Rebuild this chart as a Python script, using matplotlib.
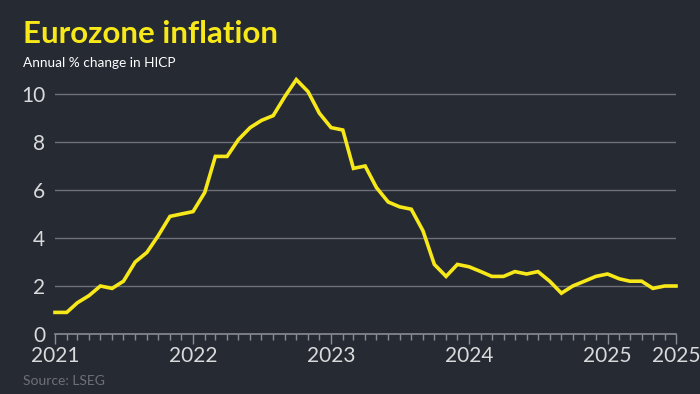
import matplotlib.pyplot as plt
import matplotlib.dates as mdates
import numpy as np
import pandas as pd

plt.rcParams['font.family'] = ['Lato', 'DejaVu Sans']

# monthly HICP, Jan 2021 - Jul 2025
months = pd.date_range('2021-01-01', '2025-07-01', freq='MS')
hicp = [0.9, 0.9, 1.3, 1.6, 2.0, 1.9, 2.2, 3.0, 3.4, 4.1, 4.9, 5.0,
        5.1, 5.9, 7.4, 7.4, 8.1, 8.6, 8.9, 9.1, 9.9, 10.6, 10.1, 9.2,
        8.6, 8.5, 6.9, 7.0, 6.1, 5.5, 5.3, 5.2, 4.3, 2.9, 2.4, 2.9,
        2.8, 2.6, 2.4, 2.4, 2.6, 2.5, 2.6, 2.2, 1.7, 2.0, 2.2, 2.4,
        2.5, 2.3, 2.2, 2.2, 1.9, 2.0, 2.0]
yticks = [0, 2, 4, 6, 8, 10]
xtick_dates = pd.to_datetime(['2021-01-01', '2022-01-01', '2023-01-01',
                              '2024-01-01', '2025-01-01', '2025-07-01'])
xtick_labels = ['2021', '2022', '2023', '2024', '2025', '2025']

bg = '#262a33'
yellow = '#f7e81a'
grey_txt = '#d9dadc'

fig = plt.figure(figsize=(7, 3.94), dpi=100, facecolor=bg)
ax = fig.add_axes([55 / 700, 1 - 334 / 394, (676 - 55) / 700, 264 / 394])
ax.set_facecolor(bg)

ax.plot(months, hicp, color=yellow, lw=2.6, solid_joinstyle='miter',
        clip_on=False, zorder=3)

ax.set_xlim(months[0], months[-1])
ax.set_ylim(0, 11)
ax.set_yticks(yticks)
ax.set_yticklabels([str(v) for v in yticks])
for v in yticks[1:]:
    ax.axhline(v, color='#6e7079', lw=1, zorder=1)
ax.axhline(0, color='#8a8c93', lw=1.2, zorder=2, clip_on=False)

ax.set_xticks(xtick_dates)
ax.set_xticklabels(xtick_labels)
ax.xaxis.set_minor_locator(mdates.MonthLocator())
ax.tick_params(axis='x', which='major', length=7, width=1, color='#8a8c93',
               labelsize=15, labelcolor=grey_txt, pad=2)
ax.tick_params(axis='x', which='minor', length=4, width=1, color='#8a8c93')
ax.tick_params(axis='y', length=0, labelsize=15, labelcolor=grey_txt, pad=7)
for s in ax.spines.values():
    s.set_visible(False)

fig.text(23 / 700, 1 - 34 / 394, 'Eurozone inflation', color=yellow,
         fontsize=22.5, fontweight='bold', va='center', ha='left')
fig.text(23 / 700, 1 - 63 / 394, 'Annual % change in HICP', color='white',
         fontsize=9.8, va='center', ha='left')
fig.text(23 / 700, 1 - 381 / 394, 'Source: LSEG', color='#6e7079',
         fontsize=10, va='center', ha='left')

fig.savefig('out.png', dpi=100, facecolor=bg)
